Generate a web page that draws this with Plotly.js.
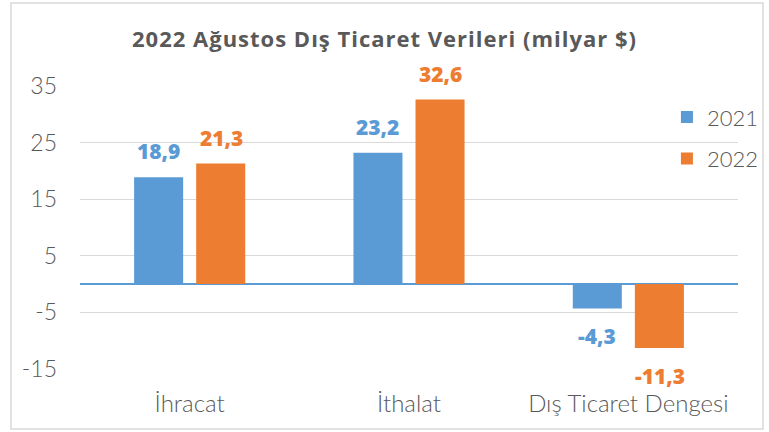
<!DOCTYPE html>
<html>
<head>
<meta charset="utf-8">
<script src="https://cdn.plot.ly/plotly-3.0.1.min.js"></script>
<style>html,body{margin:0;padding:0;background:#fff;}#chart{width:769px;height:432px;}.gtitle{letter-spacing:1px;}</style>
</head>
<body>
<div id="chart"></div>
<script>
var categories = ["İhracat", "İthalat", "Dış Ticaret Dengesi"];
var series2021 = [18.9, 23.2, -4.3];
var series2022 = [21.3, 32.6, -11.3];
var seriesNames = ["2021", "2022"];
var yTicks = [-15, -5, 5, 15, 25, 35];

var blue = "#5B9BD5", orange = "#ED7D31", grey = "#595959";
var lightFont = "Lato, 'Open Sans', sans-serif";
var boldFont = "'Open Sans', Lato, sans-serif";

function fmt(v){ return v.toFixed(1).replace(".", ","); }

var traces = [
  {type: "bar", name: seriesNames[0], legendgroup: "a", x: categories, y: series2021, marker: {color: blue}, hoverinfo: "skip"},
  {type: "bar", name: seriesNames[1], legendgroup: "b", x: categories, y: series2022, marker: {color: orange}, hoverinfo: "skip"}
];

var annotations = [];
[[series2021, blue, -31.5], [series2022, orange, 31.5]].forEach(function(s){
  s[0].forEach(function(v, i){
    annotations.push({x: categories[i], y: v, xref: "x", yref: "y", text: fmt(v), showarrow: false,
      xshift: s[2], yshift: v >= 0 ? 26 : -28, yanchor: "middle", xanchor: "center", borderpad: 0,
      font: {family: boldFont, size: 21, color: s[1], weight: 800}});
  });
});

var layout = {
  width: 769, height: 432,
  margin: {l: 80, r: 31, t: 86, b: 63, autoexpand: false},
  paper_bgcolor: "#fff", plot_bgcolor: "#fff",
  barmode: "group", bargap: 0.434, bargroupgap: 0.21,
  title: {text: "2022 Ağustos Dış Ticaret Verileri (milyar $)", x: 0.5, xanchor: "center", y: 0.91, yanchor: "middle",
          font: {family: boldFont, size: 22, color: grey, weight: 700}},
  xaxis: {showgrid: false, showline: false, ticks: "", ticklabelstandoff: 18,
          tickfont: {family: lightFont, size: 24, color: grey, weight: 300}},
  yaxis: {range: [-15, 35], tickvals: yTicks, ticktext: yTicks.map(String), showgrid: true, gridcolor: "#D9D9D9", gridwidth: 1.3,
          zeroline: true, zerolinecolor: blue, zerolinewidth: 1.5, showline: false, ticks: "",
          ticklabelstandoff: 22,
          tickfont: {family: lightFont, size: 23, color: grey, weight: 300}},
  legend: {x: 0.892, xanchor: "left", y: 0.964, yanchor: "top", traceorder: "grouped",
           font: {family: lightFont, size: 22, color: grey, weight: 300},
           tracegroupgap: 10, bgcolor: "rgba(0,0,0,0)"},
  showlegend: true,
  annotations: annotations,
  shapes: [{type: "rect", xref: "paper", yref: "paper", x0: -0.1049, x1: 1.038, y0: -0.212, y1: 1.293,
            line: {color: "#D9D9D9", width: 1.5}, fillcolor: "rgba(0,0,0,0)", layer: "below"}]
};

Plotly.newPlot("chart", traces, layout, {displayModeBar: false, staticPlot: true});
</script>
</body>
</html>
